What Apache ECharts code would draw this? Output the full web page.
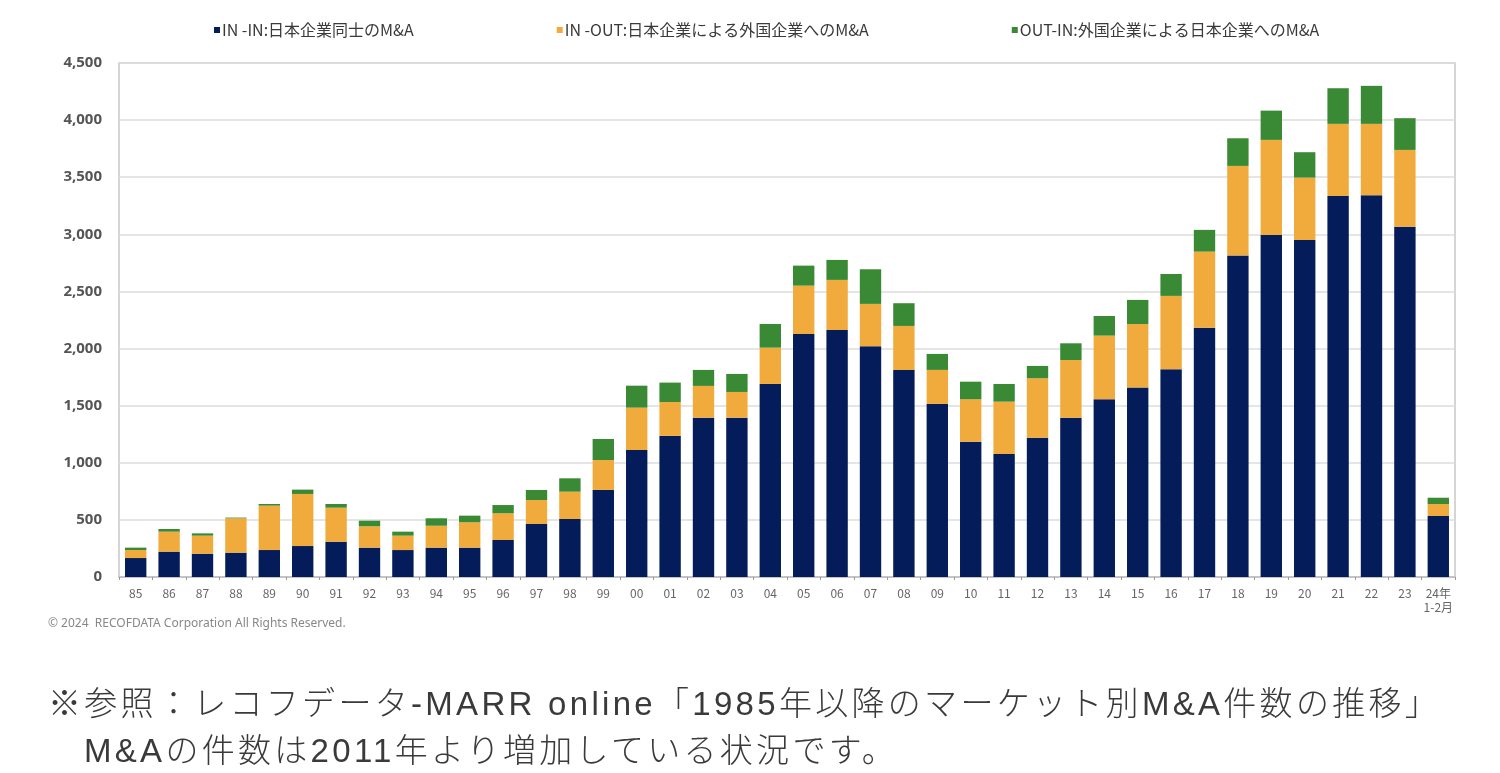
<!DOCTYPE html>
<html>
<head>
<meta charset="utf-8">
<script src="https://cdn.jsdelivr.net/npm/echarts@6/dist/echarts.min.js"></script>
<style>
html,body{margin:0;padding:0;background:#fff;}
#wrap{position:relative;width:1500px;height:773px;overflow:hidden;}
#chart{width:1500px;height:773px;}
.note{position:absolute;left:48px;font-family:"Liberation Sans","Noto Sans CJK JP",sans-serif;font-size:33px;letter-spacing:3.3px;color:#3a3a3a;white-space:nowrap;line-height:40px;font-weight:300;}
</style>
</head>
<body>
<div id="wrap">
<div id="chart"></div>
<div class="note" id="n1" style="top:684px;"></div>
<div class="note" id="n2" style="top:731px;left:84px;"></div>
</div>
<script>
const categories = ['85','86','87','88','89','90','91','92','93','94','95','96','97','98','99','00','01','02','03','04','05','06','07','08','09','10','11','12','13','14','15','16','17','18','19','20','21','22','23','24年\n1-2月'];
const inIn  = [166,222,204,213,236,271,309,257,236,257,257,324,464,508,762,1112,1235,1395,1395,1690,2128,2163,2020,1813,1515,1185,1077,1220,1395,1556,1658,1819,2183,2814,2995,2951,3336,3342,3067,534];
const inOut = [70,175,158,301,389,456,298,187,126,192,222,234,210,239,262,371,297,278,225,318,423,438,371,385,298,371,458,520,505,557,557,642,666,785,832,546,631,625,672,105];
const outIn = [21,23,20,6,14,38,32,49,35,65,58,72,88,117,184,192,170,140,158,207,175,175,303,199,140,154,155,108,146,172,211,192,190,242,256,222,312,333,278,55];
const seriesNames = ['IN -IN:日本企業同士のM&A','IN -OUT:日本企業による外国企業へのM&A','OUT-IN:外国企業による日本企業へのM&A'];
const yTicks = {min:0, max:4500, interval:500};
const copyright = '© 2024  RECOFDATA Corporation All Rights Reserved.';
const noteLine1 = '※参照：レコフデータ-MARR online「1985年以降のマーケット別M&A件数の推移」';
const noteLine2 = 'M&Aの件数は2011年より増加している状況です。';

document.getElementById('n1').textContent = noteLine1;
document.getElementById('n2').textContent = noteLine2;

const colors = ['#041c5a','#f0ab3c','#3a8935'];
const chart = echarts.init(document.getElementById('chart'));
const mk = (name, data, i) => ({
  name, type:'bar', stack:'total', data, barWidth:'64%',
  itemStyle:{color:colors[i]}, emphasis:{disabled:true}
});
chart.setOption({
  animation:false,
  textStyle:{fontFamily:'"Noto Sans CJK JP","Noto Sans",sans-serif'},
  legend:{
    top:17, left:209, itemGap:143, itemWidth:6, itemHeight:6, icon:'rect',
    textStyle:{fontSize:16, color:'#3a3a3a', padding:[0,0,0,-3], fontFamily:'"Noto Sans CJK JP",sans-serif'},
    data:seriesNames
  },
  grid:{left:119, right:45, top:63, bottom:196, show:true, borderColor:'#c8c8c8', borderWidth:1.5},
  xAxis:{
    type:'category', data:categories,
    axisLine:{lineStyle:{color:'#bdbdbd', width:1.5}},
    axisTick:{show:true, length:3, lineStyle:{color:'#999'}},
    axisLabel:{color:'#666', fontSize:12, margin:9, lineHeight:14, interval:0}
  },
  yAxis:{
    type:'value', min:yTicks.min, max:yTicks.max, interval:yTicks.interval,
    axisLine:{show:false}, axisTick:{show:false},
    splitLine:{lineStyle:{color:'#dcdcdc', width:1.5}},
    axisLabel:{color:'#555', fontSize:15, fontWeight:'bold', margin:17,
      fontFamily:'"Open Sans",sans-serif',
      formatter:v=>v.toLocaleString('en-US')}
  },
  series:[mk(seriesNames[0],inIn,0), mk(seriesNames[1],inOut,1), mk(seriesNames[2],outIn,2)],
  graphic:[
    {type:'text', left:48, top:618, style:{text:copyright, fill:'#888', fontSize:12, fontFamily:'"Noto Sans",sans-serif'}}
  ]
});
</script>
</body>
</html>
